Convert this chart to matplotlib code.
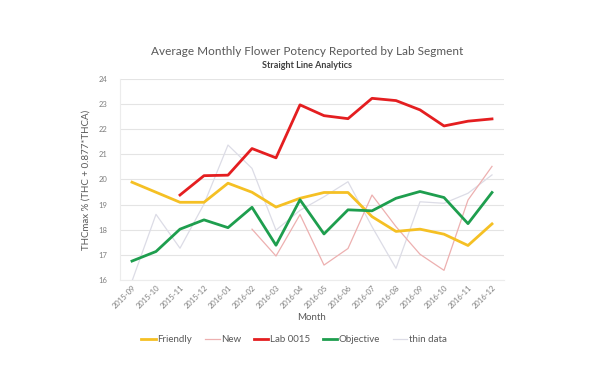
import matplotlib
matplotlib.use("Agg")
import matplotlib.pyplot as plt
import numpy as np

months = ['2015-09', '2015-10', '2015-11', '2015-12', '2016-01', '2016-02', '2016-03', '2016-04',
          '2016-05', '2016-06', '2016-07', '2016-08', '2016-09', '2016-10', '2016-11', '2016-12']
nan = np.nan
friendly = [19.89, 19.49, 19.09, 19.09, 19.85, 19.49, 18.90, 19.25,
            19.48, 19.48, 18.52, 17.93, 18.02, 17.82, 17.37, 18.23]
new = [nan, nan, nan, nan, nan, 18.02, 16.95, 18.60,
       16.59, 17.25, 19.38, 18.12, 17.02, 16.38, 19.18, 20.52]
lab0015 = [nan, nan, 19.38, 20.15, 20.17, 21.23, 20.86, 22.97,
           22.54, 22.42, 23.23, 23.14, 22.77, 22.13, 22.32, 22.41]
objective = [16.75, 17.13, 18.02, 18.39, 18.08, 18.89, 17.38, 19.19,
             17.83, 18.79, 18.75, 19.25, 19.52, 19.28, 18.24, 19.48]
thin = [15.95, 18.61, 17.26, 19.02, 21.37, 20.44, 17.98, 18.77,
        19.31, 19.91, 18.12, 16.46, 19.11, 19.05, 19.45, 20.18]

plt.rcParams['font.family'] = ['Lato', 'DejaVu Sans']
grey = '#7f7f7f'

fig = plt.figure(figsize=(6, 3.92), dpi=100)
ax = fig.add_axes([0.2, 0.286, 0.64, 0.5125])
x = np.arange(len(months))

ax.plot(x, friendly, color='#F5C024', lw=2.0, label='Friendly', zorder=4)
ax.plot(x, new, color='#EDB0B0', lw=0.9, label='New', zorder=3)
ax.plot(x, lab0015, color='#E41E20', lw=2.0, label='Lab 0015', zorder=5)
ax.plot(x, objective, color='#1E9E4E', lw=2.0, label='Objective', zorder=4)
ax.plot(x, thin, color='#DCDCE6', lw=0.9, label='thin data', zorder=2)

ax.set_xlim(-0.5, len(months) - 0.5)
ax.set_ylim(16, 24)
ax.set_yticks(range(16, 25))
ax.set_xticks(x)
ax.set_xticklabels(months, rotation=45, ha='right', rotation_mode='anchor')
ax.tick_params(axis='both', length=0, labelsize=5.5, labelcolor=grey)
ax.tick_params(axis='x', pad=3)
ax.tick_params(axis='y', pad=9)
ax.grid(axis='y', color='#e4e4e4', lw=0.8)
ax.set_axisbelow(True)
for s in ['top', 'right']:
    ax.spines[s].set_visible(False)
for s in ['left', 'bottom']:
    ax.spines[s].set_color('#ececec')
    ax.spines[s].set_linewidth(0.8)

ax.set_xlabel('Month', fontsize=7, color='#595959', labelpad=2)
ax.set_ylabel('THCmax % (THC + 0.877*THCA)', fontsize=7, color='#595959', labelpad=6)

fig.text(0.512, 0.869, 'Average Monthly Flower Potency Reported by Lab Segment',
         ha='center', va='center', fontsize=8.5, color='#595959')
fig.text(0.512, 0.834, 'Straight Line Analytics', ha='center', va='center',
         fontsize=6.5, fontweight='bold', color='#404040')

fig.legend(loc='center', bbox_to_anchor=(0.49, 0.133), ncol=5, frameon=False,
           fontsize=7, labelcolor='#595959', handlelength=1.5, handletextpad=0.15,
           columnspacing=1.3)

fig.savefig('out.png', dpi=100, facecolor='white')
